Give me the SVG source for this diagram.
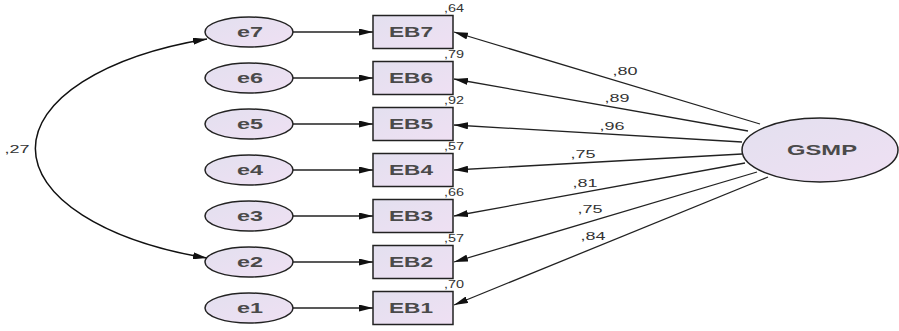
<svg xmlns="http://www.w3.org/2000/svg" width="899" height="331" viewBox="0 0 899 331">
<defs>
<linearGradient id="fill" x1="0" y1="0" x2="1" y2="1">
<stop offset="0" stop-color="#e3e0ef"/>
<stop offset="1" stop-color="#efe0f3"/>
</linearGradient>
<marker id="ah" viewBox="0 0 14 7" refX="14" refY="3.5" markerWidth="14" markerHeight="7" markerUnits="userSpaceOnUse" orient="auto-start-reverse">
<path d="M0,0 L14,3.5 L0,7 Z" fill="#111"/>
</marker>
</defs>
<style>
.nd{fill:url(#fill);stroke:#222;stroke-width:1.5}
.nt{font-family:"Liberation Sans",Arial,sans-serif;font-weight:bold;font-size:14px;fill:#4a4a4a;text-anchor:middle}
.lb{font-family:"Liberation Sans",Arial,sans-serif;font-size:10px;fill:#333;text-anchor:middle}
.cn{fill:none;stroke:#222;stroke-width:1.3;marker-end:url(#ah)}
.cv{fill:none;stroke:#111;stroke-width:1.5;marker-start:url(#ah);marker-end:url(#ah)}
</style>
<rect width="899" height="331" fill="#fff"/>
<g id="connectors">
<path class="cv" d="M207,39 A265,117 0 0,0 207,258"/>
<line class="cn" x1="293" y1="32" x2="373" y2="32"/>
<line class="cn" x1="293" y1="78" x2="373" y2="78"/>
<line class="cn" x1="293" y1="124" x2="373" y2="124"/>
<line class="cn" x1="293" y1="170" x2="373" y2="170"/>
<line class="cn" x1="293" y1="216" x2="373" y2="216"/>
<line class="cn" x1="293" y1="262" x2="373" y2="262"/>
<line class="cn" x1="293" y1="308" x2="373" y2="308"/>
<line class="cn" x1="760" y1="124" x2="454" y2="32"/>
<line class="cn" x1="748" y1="131" x2="454" y2="79"/>
<line class="cn" x1="742" y1="142" x2="454" y2="125"/>
<line class="cn" x1="742" y1="154" x2="454" y2="170"/>
<line class="cn" x1="745" y1="163" x2="454" y2="216"/>
<line class="cn" x1="757" y1="172" x2="454" y2="262"/>
<line class="cn" x1="768" y1="177" x2="454" y2="305"/>
<text class="lb" x="17" y="153" textLength="25" lengthAdjust="spacingAndGlyphs">,27</text>
<text class="lb" x="625" y="75" textLength="25" lengthAdjust="spacingAndGlyphs">,80</text>
<text class="lb" x="617" y="102" textLength="25" lengthAdjust="spacingAndGlyphs">,89</text>
<text class="lb" x="612" y="130" textLength="25" lengthAdjust="spacingAndGlyphs">,96</text>
<text class="lb" x="583" y="158" textLength="25" lengthAdjust="spacingAndGlyphs">,75</text>
<text class="lb" x="585" y="187" textLength="25" lengthAdjust="spacingAndGlyphs">,81</text>
<text class="lb" x="590" y="213" textLength="25" lengthAdjust="spacingAndGlyphs">,75</text>
<text class="lb" x="593" y="240" textLength="25" lengthAdjust="spacingAndGlyphs">,84</text>
</g>
<g id="e7"><ellipse class="nd" cx="249" cy="32" rx="44" ry="15"/><text class="nt" x="250" y="37" textLength="26" lengthAdjust="spacingAndGlyphs">e7</text></g>
<g id="e6"><ellipse class="nd" cx="249" cy="78" rx="44" ry="15"/><text class="nt" x="250" y="83" textLength="26" lengthAdjust="spacingAndGlyphs">e6</text></g>
<g id="e5"><ellipse class="nd" cx="249" cy="124" rx="44" ry="15"/><text class="nt" x="250" y="129" textLength="26" lengthAdjust="spacingAndGlyphs">e5</text></g>
<g id="e4"><ellipse class="nd" cx="249" cy="170" rx="44" ry="15"/><text class="nt" x="250" y="175" textLength="26" lengthAdjust="spacingAndGlyphs">e4</text></g>
<g id="e3"><ellipse class="nd" cx="249" cy="216" rx="44" ry="15"/><text class="nt" x="250" y="221" textLength="26" lengthAdjust="spacingAndGlyphs">e3</text></g>
<g id="e2"><ellipse class="nd" cx="249" cy="262" rx="44" ry="15"/><text class="nt" x="250" y="267" textLength="26" lengthAdjust="spacingAndGlyphs">e2</text></g>
<g id="e1"><ellipse class="nd" cx="249" cy="308" rx="44" ry="15"/><text class="nt" x="250" y="313" textLength="26" lengthAdjust="spacingAndGlyphs">e1</text></g>
<g id="EB7"><rect class="nd" x="373" y="15.5" width="80" height="33"/><text class="nt" x="411" y="37" textLength="44" lengthAdjust="spacingAndGlyphs">EB7</text><text class="lb" x="454" y="12" textLength="20" lengthAdjust="spacingAndGlyphs">,64</text></g>
<g id="EB6"><rect class="nd" x="373" y="61.5" width="80" height="33"/><text class="nt" x="411" y="83" textLength="44" lengthAdjust="spacingAndGlyphs">EB6</text><text class="lb" x="454" y="58" textLength="20" lengthAdjust="spacingAndGlyphs">,79</text></g>
<g id="EB5"><rect class="nd" x="373" y="107.5" width="80" height="33"/><text class="nt" x="411" y="129" textLength="44" lengthAdjust="spacingAndGlyphs">EB5</text><text class="lb" x="454" y="104" textLength="20" lengthAdjust="spacingAndGlyphs">,92</text></g>
<g id="EB4"><rect class="nd" x="373" y="153.5" width="80" height="33"/><text class="nt" x="411" y="175" textLength="44" lengthAdjust="spacingAndGlyphs">EB4</text><text class="lb" x="454" y="150" textLength="20" lengthAdjust="spacingAndGlyphs">,57</text></g>
<g id="EB3"><rect class="nd" x="373" y="199.5" width="80" height="33"/><text class="nt" x="411" y="221" textLength="44" lengthAdjust="spacingAndGlyphs">EB3</text><text class="lb" x="454" y="196" textLength="20" lengthAdjust="spacingAndGlyphs">,66</text></g>
<g id="EB2"><rect class="nd" x="373" y="245.5" width="80" height="33"/><text class="nt" x="411" y="267" textLength="44" lengthAdjust="spacingAndGlyphs">EB2</text><text class="lb" x="454" y="242" textLength="20" lengthAdjust="spacingAndGlyphs">,57</text></g>
<g id="EB1"><rect class="nd" x="373" y="291.5" width="80" height="33"/><text class="nt" x="411" y="313" textLength="44" lengthAdjust="spacingAndGlyphs">EB1</text><text class="lb" x="454" y="288" textLength="20" lengthAdjust="spacingAndGlyphs">,70</text></g>
<g id="GSMP"><ellipse class="nd" cx="820" cy="150" rx="78" ry="32"/><text class="nt" x="822" y="155" textLength="70" lengthAdjust="spacingAndGlyphs">GSMP</text></g>
</svg>
